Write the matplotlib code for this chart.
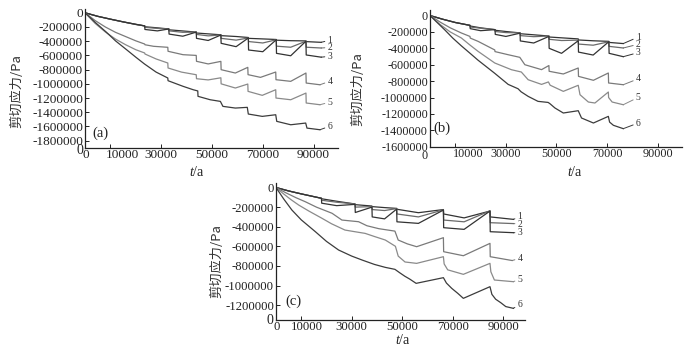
import matplotlib
matplotlib.use('Agg')
import matplotlib.pyplot as plt
import matplotlib.transforms as mtransforms

plt.rcParams['font.family'] = ['Liberation Serif', 'DejaVu Serif']
plt.rcParams['axes.unicode_minus'] = False
plt.rcParams['mathtext.fontset'] = 'custom'
plt.rcParams['mathtext.it'] = 'Liberation Serif:italic'
plt.rcParams['mathtext.rm'] = 'Liberation Serif'

# ---------------- panel (a) ----------------
a1_t = [0, 5000, 10000, 15000, 20000, 23500, 23600, 28500, 33000, 33100, 38500, 43800, 43900, 48500, 53500, 53600, 59500, 64300, 64400, 70000, 75300, 75400, 81000, 87000, 87100, 93000]
a1_v = [0, -50000, -90000, -128000, -165000, -185000, -197000, -212000, -228000, -240000, -256000, -272000, -285000, -297000, -310000, -322000, -334000, -348000, -360000, -368000, -376000, -386000, -393000, -396000, -406000, -416000]
a2_t = a1_t
a2_v = [0, -50000, -90000, -128000, -163000, -185000, -205000, -220000, -228000, -255000, -275000, -272000, -305000, -325000, -313000, -360000, -385000, -355000, -405000, -425000, -380000, -470000, -485000, -400000, -485000, -496000]
a3_t = a1_t
a3_v = [0, -50000, -90000, -128000, -162000, -185000, -235000, -255000, -228000, -300000, -330000, -272000, -360000, -390000, -313000, -430000, -477000, -355000, -524000, -548000, -380000, -571000, -605000, -400000, -594000, -625000]
a4_t = [0, 4000, 8000, 12000, 16000, 20000, 23500, 23600, 27000, 32600, 32700, 38600, 43800, 43900, 48500, 53500, 53600, 59200, 64100, 64200, 69100, 75100, 75200, 81000, 87000, 87100, 92500]
a4_v = [0, -110000, -200000, -275000, -335000, -395000, -440000, -450000, -472000, -486000, -542000, -590000, -600000, -683000, -720000, -684000, -801000, -848000, -768000, -871000, -909000, -834000, -942000, -965000, -848000, -989000, -1013000]
a5_t = [0, 4000, 8000, 12000, 16000, 20000, 23500, 23600, 28000, 32600, 32700, 38000, 43800, 43900, 48500, 53500, 53600, 59200, 64100, 64200, 69800, 75100, 75200, 81000, 87000, 87100, 92500]
a5_v = [0, -150000, -270000, -370000, -450000, -520000, -566000, -580000, -650000, -707000, -777000, -835000, -872000, -928000, -945000, -915000, -1000000, -1059000, -1003000, -1106000, -1162000, -1083000, -1200000, -1224000, -1130000, -1270000, -1294000]
a6_t = [0, 4000, 8300, 12000, 16200, 20000, 23400, 28000, 32600, 32700, 38600, 42600, 44400, 44500, 49300, 53300, 54300, 59200, 63900, 64300, 69800, 75100, 75500, 81000, 86900, 87400, 92500]
a6_v = [0, -135000, -270000, -395000, -515000, -625000, -720000, -835000, -918000, -956000, -1035000, -1083000, -1100000, -1176000, -1224000, -1247000, -1317000, -1341000, -1331000, -1425000, -1458000, -1435000, -1528000, -1576000, -1552000, -1623000, -1646000]
a_lab_t = 95500
a_lab_v = [-385000, -488000, -612000, -963000, -1258000, -1596000]

# ---------------- panel (b) ----------------
b1_t = [0, 5000, 10000, 15800, 15900, 20000, 25700, 25800, 30000, 35600, 35700, 41000, 47000, 47100, 52000, 58600, 58700, 64500, 70700, 70800, 76400]
b1_v = [0, -45000, -85000, -120000, -128000, -150000, -172000, -180000, -195000, -212000, -222000, -235000, -250000, -262000, -272000, -285000, -298000, -308000, -315000, -328000, -342000]
b2_t = b1_t
b2_v = [0, -45000, -85000, -120000, -140000, -155000, -172000, -195000, -208000, -212000, -245000, -258000, -250000, -290000, -305000, -300000, -348000, -362000, -320000, -376000, -396000]
b3_t = b1_t
b3_v = [0, -45000, -85000, -120000, -160000, -185000, -172000, -230000, -255000, -215000, -310000, -335000, -255000, -400000, -461000, -307000, -446000, -482000, -319000, -461000, -502000]
b4_t = [0, 4000, 8000, 12400, 15800, 15900, 19000, 25600, 25700, 30900, 35500, 37500, 44100, 47000, 47100, 52700, 58600, 58700, 64600, 70500, 70600, 76400]
b4_v = [0, -80000, -150000, -213000, -255000, -275000, -315000, -420000, -440000, -478000, -510000, -600000, -660000, -610000, -680000, -713000, -640000, -742000, -790000, -701000, -823000, -844000]
b5_t = [0, 4000, 8000, 12400, 15800, 19000, 25600, 32200, 36100, 38800, 44100, 46800, 47500, 52700, 58600, 59300, 62600, 65200, 70500, 70600, 72000, 76400]
b5_v = [0, -110000, -200000, -274000, -360000, -437000, -579000, -661000, -689000, -783000, -840000, -810000, -850000, -925000, -851000, -966000, -1055000, -1067000, -933000, -1000000, -1055000, -1088000]
b6_t = [0, 3000, 6000, 9000, 12400, 16000, 19000, 25600, 30900, 34800, 36000, 38800, 42700, 46700, 47400, 49400, 52700, 58600, 59900, 64600, 70500, 71000, 72500, 76400]
b6_v = [0, -90000, -180000, -275000, -370000, -465000, -545000, -705000, -840000, -893000, -930000, -986000, -1047000, -1060000, -1075000, -1128000, -1189000, -1161000, -1250000, -1311000, -1230000, -1300000, -1339000, -1380000]
b_lab_t = 81400
b_lab_v = [-262000, -350000, -452000, -771000, -998000, -1311000]

# ---------------- panel (c) ----------------
c1_t = [0, 5000, 10000, 18000, 18100, 24000, 31300, 31400, 38000, 38100, 43000, 47800, 47900, 56400, 66300, 66400, 74500, 84750, 84850, 94000]
c1_v = [0, -35000, -65000, -110000, -115000, -140000, -168000, -175000, -189000, -195000, -205000, -213000, -222000, -257000, -225000, -270000, -310000, -240000, -300000, -325000]
c2_t = c1_t
c2_v = [0, -35000, -65000, -110000, -130000, -150000, -168000, -200000, -195000, -225000, -235000, -215000, -270000, -300000, -228000, -332000, -350000, -238000, -359000, -368000]
c3_t = c1_t
c3_v = [0, -35000, -65000, -110000, -160000, -185000, -172000, -255000, -200000, -300000, -320000, -220000, -350000, -366000, -230000, -410000, -427000, -240000, -451000, -461000]
c4_t = [0, 4000, 8000, 11600, 16000, 22200, 26100, 32700, 36000, 40700, 47100, 48400, 52000, 55700, 66300, 66400, 74200, 84750, 84850, 93500]
c4_v = [0, -55000, -105000, -145000, -200000, -263000, -332000, -349000, -390000, -420000, -445000, -536000, -575000, -604000, -512000, -655000, -696000, -570000, -706000, -745000]
c5_t = [0, 3000, 6000, 9000, 13000, 18200, 22000, 27300, 31000, 35300, 39000, 43300, 47300, 48400, 51100, 55700, 66300, 66600, 68000, 74200, 84750, 85100, 86500, 94000]
c5_v = [0, -65000, -125000, -179000, -240000, -314000, -370000, -434000, -450000, -468000, -500000, -536000, -600000, -700000, -760000, -774000, -706000, -780000, -840000, -886000, -774000, -860000, -944000, -961000]
c6_t = [0, 3000, 6300, 10000, 15600, 20000, 24800, 30000, 34100, 39000, 43300, 47100, 49000, 51000, 53000, 55500, 66300, 67500, 69600, 72000, 74200, 84750, 85500, 87000, 89000, 91000, 94000]
c6_v = [0, -115000, -230000, -330000, -451000, -550000, -638000, -700000, -740000, -785000, -815000, -835000, -870000, -905000, -935000, -978000, -920000, -975000, -1029000, -1080000, -1131000, -1012000, -1090000, -1140000, -1175000, -1215000, -1233000]
c_lab_t = 95700
c_lab_v = [-300000, -374000, -462000, -723000, -934000, -1192000]

x_ticks = [0, 10000, 30000, 50000, 70000, 90000]
curve_colors = ['#333333', '#6a6a6a', '#333333', '#7a7a7a', '#8a8a8a', '#3c3c3c']

W, H = 690, 352
fig = plt.figure(figsize=(W / 100, H / 100), dpi=100)


def add_panel(left, right, top, bottom, xlim, ylim, yticks, tick_fs, ten_dx, zero_dx, zero_dy):
    ax = fig.add_axes([left / W, 1 - bottom / H, (right - left) / W, (bottom - top) / H])
    ax.set_xlim(*xlim)
    ax.set_ylim(*ylim)
    for s in ['top', 'right']:
        ax.spines[s].set_visible(False)
    for s in ['left', 'bottom']:
        ax.spines[s].set_linewidth(0.9)
        ax.spines[s].set_color('#222222')
    ax.set_xticks(x_ticks)
    ax.set_xticklabels([str(v) for v in x_ticks])
    ax.set_yticks(yticks)
    ax.set_yticklabels([str(v) for v in yticks])
    ax.tick_params(direction='in', length=3, width=0.7, labelsize=tick_fs, pad=1.5,
                   colors='#222222')
    ax.tick_params(axis='x', pad=1)
    labs = ax.get_xticklabels()
    labs[1].set_transform(labs[1].get_transform() +
                          mtransforms.ScaledTranslation(ten_dx / 100, 0, fig.dpi_scale_trans))
    labs[0].set_transform(labs[0].get_transform() +
                          mtransforms.ScaledTranslation(zero_dx / 100, zero_dy / 100,
                                                        fig.dpi_scale_trans))
    return ax


def draw_curves(ax, ts, vs, lab_t, lab_v):
    for i, (t, v) in enumerate(zip(ts, vs)):
        ax.plot(t, v, color=curve_colors[i], lw=0.9)
        ax.annotate(str(i + 1), xy=(t[-1], v[-1]), xytext=(lab_t, lab_v[i]),
                    fontsize=7, ha='left', va='center', color='#333333',
                    arrowprops=dict(arrowstyle='-', lw=0.7, color=curve_colors[i],
                                    shrinkA=0, shrinkB=0),
                    annotation_clip=False)


ax_a = add_panel(85, 337.7, 8.5, 148, (0, 99500), (-1903000, 60000),
                 list(range(0, -1800001, -200000)), 9.5, 12, 1, 0)
draw_curves(ax_a, [a1_t, a2_t, a3_t, a4_t, a5_t, a6_t],
            [a1_v, a2_v, a3_v, a4_v, a5_v, a6_v], a_lab_t, a_lab_v)

ax_b = add_panel(430, 681.7, 10.2, 146.7, (0, 99500), (-1600000, 65000),
                 list(range(0, -1600001, -200000)), 8.7, 13, -5, -2)
draw_curves(ax_b, [b1_t, b2_t, b3_t, b4_t, b5_t, b6_t],
            [b1_v, b2_v, b3_v, b4_v, b5_v, b6_v], b_lab_t, b_lab_v)

ax_c = add_panel(276, 524.7, 183.3, 320, (0, 98500), (-1352000, 43000),
                 list(range(0, -1200001, -200000)), 9.2, 5.5, 1, 0)
draw_curves(ax_c, [c1_t, c2_t, c3_t, c4_t, c5_t, c6_t],
            [c1_v, c2_v, c3_v, c4_v, c5_v, c6_v], c_lab_t, c_lab_v)


def ftext(x, y, s, **kw):
    fig.text(x / W, 1 - y / H, s, ha='center', va='center', **kw)


# stray origin zeros
ftext(80, 151, '0', fontsize=10, color='#222222')
ftext(270, 321, '0', fontsize=10, color='#222222')

# axis titles
for x, y in [(197, 172), (575, 172), (403, 340)]:
    ftext(x, y, r'$t$/a', fontsize=10, color='#222222')
for x, y in [(17, 91), (358, 89), (217, 261)]:
    ftext(x, y, '剪切应力/Pa', fontsize=9.5, rotation=90, color='#333333',
          family=['Noto Sans CJK SC', 'DejaVu Sans'])

# panel tags
ftext(100, 133, '(a)', fontsize=10.5, color='#222222')
ftext(442, 128, '(b)', fontsize=10.5, color='#222222')
ftext(293, 301, '(c)', fontsize=10.5, color='#222222')

fig.savefig('out.png', dpi=100, facecolor='white')
